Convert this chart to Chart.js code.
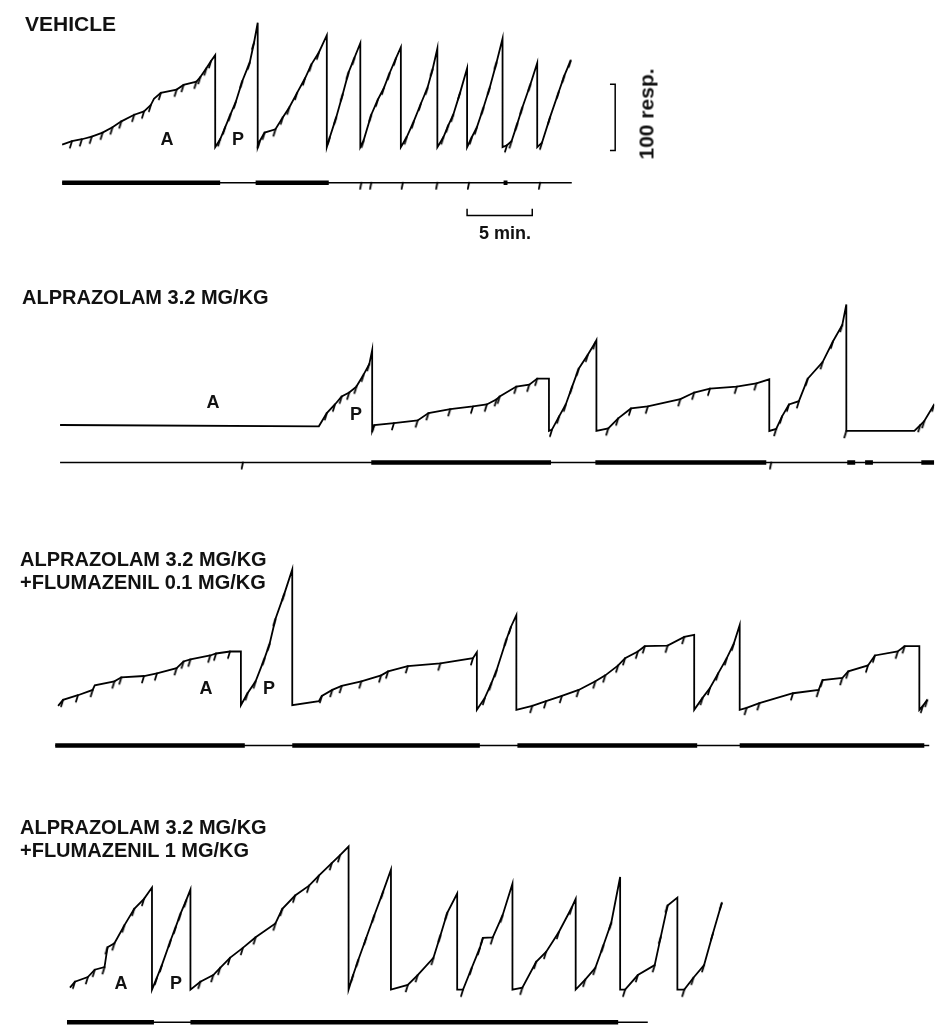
<!DOCTYPE html>
<html>
<head>
<meta charset="utf-8">
<script src="https://cdn.jsdelivr.net/npm/chart.js@4.4.1/dist/chart.umd.min.js"></script>
<style>
  body { margin: 0; background: #fff; }
  #wrap { position: relative; width: 940px; height: 1033px; overflow: hidden; }
  #rec { position: absolute; left: 0; top: 0; }
  .txt {
    position: absolute;
    font-family: "Liberation Sans", Arial, Helvetica, sans-serif;
    font-weight: bold;
    color: #111;
    white-space: nowrap;
    line-height: 23px;
  }
  .mark { transform: translate(-50%, -50%); line-height: 1; font-size: 18px; }
</style>
</head>
<body>
<div id="wrap">
  <canvas id="rec" width="940" height="1033"></canvas>

  <div class="txt" style="left:25px;top:12px;font-size:21px;">VEHICLE</div>
  <div class="txt" style="left:22px;top:286px;font-size:20px;">ALPRAZOLAM 3.2 MG/KG</div>
  <div class="txt" style="left:20px;top:548px;font-size:20px;">ALPRAZOLAM 3.2 MG/KG<br>+FLUMAZENIL 0.1 MG/KG</div>
  <div class="txt" style="left:20px;top:816px;font-size:20px;">ALPRAZOLAM 3.2 MG/KG<br>+FLUMAZENIL 1 MG/KG</div>

  <div class="txt" style="left:646px;top:114px;font-size:21px;line-height:1;transform:translate(-50%,-50%) rotate(-90deg);">100 resp.</div>
  <div class="txt" style="left:505px;top:233px;font-size:18px;line-height:1;transform:translate(-50%,-50%);">5 min.</div>

  <div class="txt mark" style="left:167px;top:139px;">A</div>
  <div class="txt mark" style="left:238px;top:139px;">P</div>
  <div class="txt mark" style="left:213px;top:402px;">A</div>
  <div class="txt mark" style="left:356px;top:414px;">P</div>
  <div class="txt mark" style="left:206px;top:688px;">A</div>
  <div class="txt mark" style="left:269px;top:688px;">P</div>
  <div class="txt mark" style="left:121px;top:983px;">A</div>
  <div class="txt mark" style="left:176px;top:983px;">P</div>
</div>

<script>
  // cumulative records: [minutes, responses, pip]
  const vehicleRecord = [
    [0.08, 4, 0], [0.83, 9, 1], [1.59, 12, 1], [2.35, 16, 1], [3.18, 22, 1], [3.94, 30, 1], [4.62, 39, 1],
    [5.61, 49, 1], [6.36, 54, 1], [6.89, 64, 1], [7.12, 73, 0], [7.65, 82, 1], [8.86, 87, 1], [9.39, 94, 1],
    [10.38, 99, 1], [10.68, 106, 1], [11.14, 119, 1], [11.5, 130, 1], [11.82, 139, 0],
    [11.82, 0, 0], [12.2, 12, 1], [12.58, 30, 1], [13.0, 50, 1], [13.41, 69, 1], [13.9, 100, 1], [14.47, 128, 1], [14.8, 158, 1], [15.08, 188, 0],
    [15.08, 0, 0], [15.23, 9, 1], [15.61, 22, 1], [16.44, 27, 1], [17.0, 45, 1], [17.5, 60, 1], [18.1, 82, 1], [18.71, 104, 1], [19.2, 125, 1], [19.77, 143, 1], [20.38, 169, 0],
    [20.38, 0, 0], [20.61, 15, 1], [21.1, 45, 1], [21.6, 80, 1], [22.05, 113, 1], [22.5, 135, 1], [22.95, 157, 0],
    [22.95, 0, 0], [23.2, 10, 1], [23.79, 49, 1], [24.3, 72, 1], [24.77, 90, 1], [25.2, 112, 1], [25.68, 134, 1], [26.06, 151, 0],
    [26.06, 0, 0], [26.5, 15, 1], [27.05, 39, 1], [27.6, 66, 1], [28.11, 90, 1], [28.5, 118, 1], [28.86, 149, 0],
    [28.86, 0, 0], [29.32, 15, 1], [29.7, 33, 1], [30.08, 49, 1], [30.6, 82, 1], [31.14, 119, 0],
    [31.14, 0, 0], [31.5, 15, 1], [31.89, 30, 1], [32.4, 60, 1], [32.88, 90, 1], [33.4, 128, 1], [33.86, 164, 0],
    [33.86, 0, 0], [34.2, 3, 1], [34.55, 9, 1], [35.0, 36, 1], [35.38, 60, 1], [36.0, 95, 1], [36.52, 127, 0],
    [36.52, 0, 0], [36.89, 7, 1], [37.5, 45, 1], [38.18, 84, 1], [38.6, 108, 1], [39.09, 131, 1]
  ];

  const alpRecord = [
    [-0.08, 9, 0], [19.77, 7, 0], [20.38, 27, 1], [21.0, 40, 1], [21.52, 52, 1], [22.1, 58, 1], [22.65, 67, 1], [23.2, 85, 1], [23.64, 101, 1], [23.86, 122, 0],
    [23.86, 0, 0], [24.02, 9, 1], [25.53, 12, 1], [27.35, 16, 1], [28.18, 27, 1], [29.85, 33, 1], [31.59, 37, 1], [32.65, 40, 1],
    [33.41, 48, 1], [33.64, 52, 1], [34.92, 67, 1], [35.91, 70, 1], [36.52, 79, 1], [37.42, 79, 0],
    [37.42, 0, 0], [37.65, 2, 1], [38.2, 22, 1], [38.71, 40, 1], [39.2, 67, 1], [39.7, 94, 1], [40.4, 115, 1], [40.98, 134, 1], [41.06, 137, 0],
    [41.06, 0, 0], [41.97, 4, 1], [42.73, 19, 1], [43.71, 34, 1], [45.0, 37, 1], [47.5, 48, 1], [48.56, 58, 1], [49.77, 64, 1],
    [51.82, 67, 1], [53.33, 72, 1], [54.32, 78, 0],
    [54.32, 0, 0], [54.85, 3, 1], [55.3, 22, 1], [55.83, 40, 1], [56.59, 45, 1], [57.27, 79, 1], [58.41, 104, 1], [59.2, 135, 1], [59.92, 160, 1], [60.23, 191, 0],
    [60.23, 0, 1], [65.45, 0, 0], [65.9, 9, 1], [66.21, 15, 1], [66.97, 40, 1]
  ];

  const flu01Record = [
    [-0.23, 6, 0], [0.15, 15, 1], [1.29, 22, 1], [2.42, 30, 1], [2.58, 37, 0], [4.09, 43, 1], [4.62, 49, 1], [6.36, 51, 1],
    [7.35, 55, 1], [8.86, 63, 1], [9.39, 73, 1], [9.92, 76, 1], [11.44, 82, 1], [11.89, 85, 1], [12.95, 88, 1], [13.79, 88, 0],
    [13.79, 7, 0], [14.3, 25, 1], [14.92, 43, 1], [15.61, 78, 1], [16.0, 100, 1], [16.44, 137, 1], [17.12, 175, 1], [17.73, 212, 0],
    [17.73, 7, 0], [19.77, 13, 0], [20.0, 21, 1], [20.8, 30, 1], [21.52, 36, 1], [23.03, 43, 1], [24.55, 52, 1], [25.08, 58, 1],
    [26.59, 66, 1], [29.09, 70, 1], [31.59, 78, 1], [31.89, 87, 0],
    [31.89, 0, 0], [32.5, 18, 1], [33.0, 40, 1], [33.41, 60, 1], [34.17, 107, 1], [34.5, 125, 1], [34.92, 143, 0],
    [34.92, 0, 0], [36.14, 6, 1], [37.2, 13, 1], [38.41, 21, 1], [39.7, 30, 1], [40.98, 43, 1], [41.74, 52, 1], [42.73, 67, 1],
    [43.26, 78, 1], [44.24, 88, 1], [44.77, 96, 1], [46.52, 97, 1], [47.8, 110, 1], [48.56, 113, 0],
    [48.56, 0, 0], [49.2, 18, 1], [49.77, 33, 1], [50.4, 55, 1], [51.06, 78, 1], [51.6, 100, 1], [52.05, 128, 0],
    [52.05, 0, 0], [52.58, 3, 1], [53.56, 10, 1], [56.14, 25, 1], [58.11, 30, 1], [58.41, 45, 1], [59.92, 48, 1], [60.38, 58, 1],
    [61.89, 67, 1], [62.42, 82, 1], [64.17, 88, 1], [64.7, 96, 1], [65.83, 96, 0],
    [65.83, 0, 0], [66.1, 6, 1], [66.44, 15, 1]
  ];

  const flu1Record = [
    [0.68, 3, 0], [1.06, 12, 1], [2.05, 19, 1], [2.58, 30, 1], [3.33, 34, 1], [3.56, 64, 1], [4.09, 70, 1], [4.85, 97, 1],
    [5.61, 122, 1], [6.36, 137, 1], [6.97, 154, 0],
    [6.97, 0, 0], [7.35, 18, 1], [7.73, 37, 1], [8.41, 75, 1], [8.8, 95, 1], [9.17, 115, 1], [9.6, 135, 1], [9.92, 151, 0],
    [9.92, 0, 0], [10.68, 12, 1], [11.67, 22, 1], [12.2, 33, 1], [12.95, 48, 1], [13.94, 63, 1], [14.92, 79, 1], [16.44, 100, 1],
    [16.97, 122, 1], [17.95, 142, 1], [19.02, 157, 1], [19.77, 172, 1], [20.76, 191, 1], [21.4, 203, 1], [22.05, 216, 0],
    [22.05, 0, 0], [22.4, 22, 1], [22.8, 45, 1], [23.4, 78, 1], [24.02, 112, 1], [24.7, 148, 1], [25.3, 181, 0],
    [25.3, 0, 0], [26.59, 7, 1], [27.35, 22, 1], [28.56, 48, 1], [29.1, 82, 1], [29.62, 116, 1], [30.38, 145, 0],
    [30.38, 0, 0], [30.83, 0, 1], [31.5, 33, 1], [32.12, 63, 1], [32.35, 78, 1], [33.11, 79, 1], [33.86, 112, 1], [34.62, 160, 0],
    [34.62, 0, 0], [35.38, 3, 1], [36.44, 42, 1], [37.2, 57, 1], [38.18, 87, 1], [39.17, 124, 1], [39.47, 137, 0],
    [39.47, 0, 0], [40.2, 15, 1], [40.98, 33, 1], [41.6, 67, 1], [42.2, 101, 1], [42.88, 170, 0],
    [42.88, 0, 0], [43.26, 0, 1], [44.24, 22, 1], [45.53, 37, 1], [46.0, 80, 1], [46.52, 127, 1], [47.27, 139, 0],
    [47.27, 0, 0], [47.8, 0, 1], [48.5, 18, 1], [49.32, 37, 1], [50.0, 85, 1], [50.68, 131, 1]
  ];

  // event pen: span of the line, dark blocks [start, end], single ticks (minutes)
  const vehicleEventSpan = [0.08, 39.17];
  const vehicleEventBlocks = [[0.08, 12.2], [14.92, 20.53], [33.94, 34.24]];
  const vehicleEventTicks = [23.03, 23.79, 26.21, 28.86, 31.29, 36.74];

  const alpEventSpan = [-0.08, 66.97];
  const alpEventBlocks = [[23.79, 37.58], [40.98, 54.09], [60.3, 60.91], [61.67, 62.27], [65.98, 66.97]];
  const alpEventTicks = [13.94, 54.47];

  const flu01EventSpan = [-0.45, 66.59];
  const flu01EventBlocks = [[-0.45, 14.09], [17.73, 32.12], [35.0, 48.79], [52.05, 66.21]];
  const flu01EventTicks = [];

  const flu1EventSpan = [0.45, 45.0];
  const flu1EventBlocks = [[0.45, 7.12], [9.92, 42.73]];
  const flu1EventTicks = [];

  // calibration bars
  const scaleBarMin = 5;      // 5 min.
  const scaleBarResp = 100;   // 100 resp.

  // ---- layout (pixels) ----
  const W = 940, H = 1033;
  const X0 = 56;             // pixel of t = 0
  const PX_PER_MIN = 13.2;
  const PX_PER_RESP = 0.67;
  const panels = [
    { record: vehicleRecord, span: vehicleEventSpan, blocks: vehicleEventBlocks, ticks: vehicleEventTicks, base: 143, event: 179 },
    { record: alpRecord, span: alpEventSpan, blocks: alpEventBlocks, ticks: alpEventTicks, base: 430, event: 462 },
    { record: flu01Record, span: flu01EventSpan, blocks: flu01EventBlocks, ticks: flu01EventTicks, base: 712, event: 748 },
    { record: flu1Record, span: flu1EventSpan, blocks: flu1EventBlocks, ticks: flu1EventTicks, base: 995, event: 1028 }
  ];

  const INK = '#000';

  // small slanted pip hanging below the pen
  function makePip(dx, len, lw) {
    const c = document.createElement('canvas');
    c.width = 18; c.height = 18;
    const g = c.getContext('2d');
    g.strokeStyle = INK;
    g.lineWidth = lw;
    g.lineCap = 'round';
    g.beginPath();
    g.moveTo(9, 9);
    g.lineTo(9 + dx, 9 + len);
    g.stroke();
    return c;
  }
  const pip = makePip(-2, 6.5, 1.8);
  const eventPip = makePip(-1.2, 6, 1.8);

  const scales = {
    x: { type: 'linear', display: false, min: -X0 / PX_PER_MIN, max: (W - X0) / PX_PER_MIN }
  };
  const datasets = [];

  panels.forEach((p, i) => {
    const yId = 'y' + i, eId = 'e' + i;
    const top = p.base / PX_PER_RESP;
    scales[yId] = { type: 'linear', axis: 'y', display: false, max: top, min: top - H / PX_PER_RESP };
    scales[eId] = { type: 'linear', axis: 'y', display: false, max: p.event, min: p.event - H };

    datasets.push({
      data: p.record,
      yAxisID: yId,
      borderColor: INK,
      borderWidth: 1.8,
      tension: 0,
      pointStyle: pip,
      pointRadius: ctx => (ctx.raw && ctx.raw[2] ? 3 : 0)
    });

    datasets.push({
      data: p.span.map(t => ({ x: t, y: 0 })),
      yAxisID: eId,
      borderColor: INK,
      borderWidth: 1.5,
      pointRadius: 0
    });

    const blockPts = [];
    p.blocks.forEach(b => {
      blockPts.push({ x: b[0], y: 0 }, { x: b[1], y: 0 }, { x: b[1], y: null });
    });
    datasets.push({
      data: blockPts,
      yAxisID: eId,
      borderColor: INK,
      borderWidth: 4.5,
      spanGaps: false,
      pointRadius: 0
    });

    if (p.ticks.length) {
      datasets.push({
        data: p.ticks.map(t => ({ x: t, y: 0 })),
        yAxisID: eId,
        showLine: false,
        pointStyle: eventPip,
        pointRadius: 3
      });
    }
  });

  // calibration bars, drawn on the vehicle panel's scales
  const respBarT = 42.5, respBarFrom = -5;
  datasets.push({
    data: [
      [respBarT - 0.4, respBarFrom], [respBarT, respBarFrom],
      [respBarT, respBarFrom + scaleBarResp], [respBarT - 0.4, respBarFrom + scaleBarResp]
    ],
    yAxisID: 'y0', borderColor: INK, borderWidth: 1.5, pointRadius: 0
  });
  const minBarT = 31.14, minBarR = -103;
  datasets.push({
    data: [
      [minBarT, minBarR + 10], [minBarT, minBarR],
      [minBarT + scaleBarMin, minBarR], [minBarT + scaleBarMin, minBarR + 10]
    ],
    yAxisID: 'y0', borderColor: INK, borderWidth: 1.5, pointRadius: 0
  });

  new Chart(document.getElementById('rec'), {
    type: 'line',
    data: { datasets },
    options: {
      responsive: false,
      animation: false,
      events: [],
      layout: { padding: 0 },
      scales,
      plugins: {
        legend: { display: false },
        tooltip: { enabled: false }
      }
    }
  });
</script>
</body>
</html>
